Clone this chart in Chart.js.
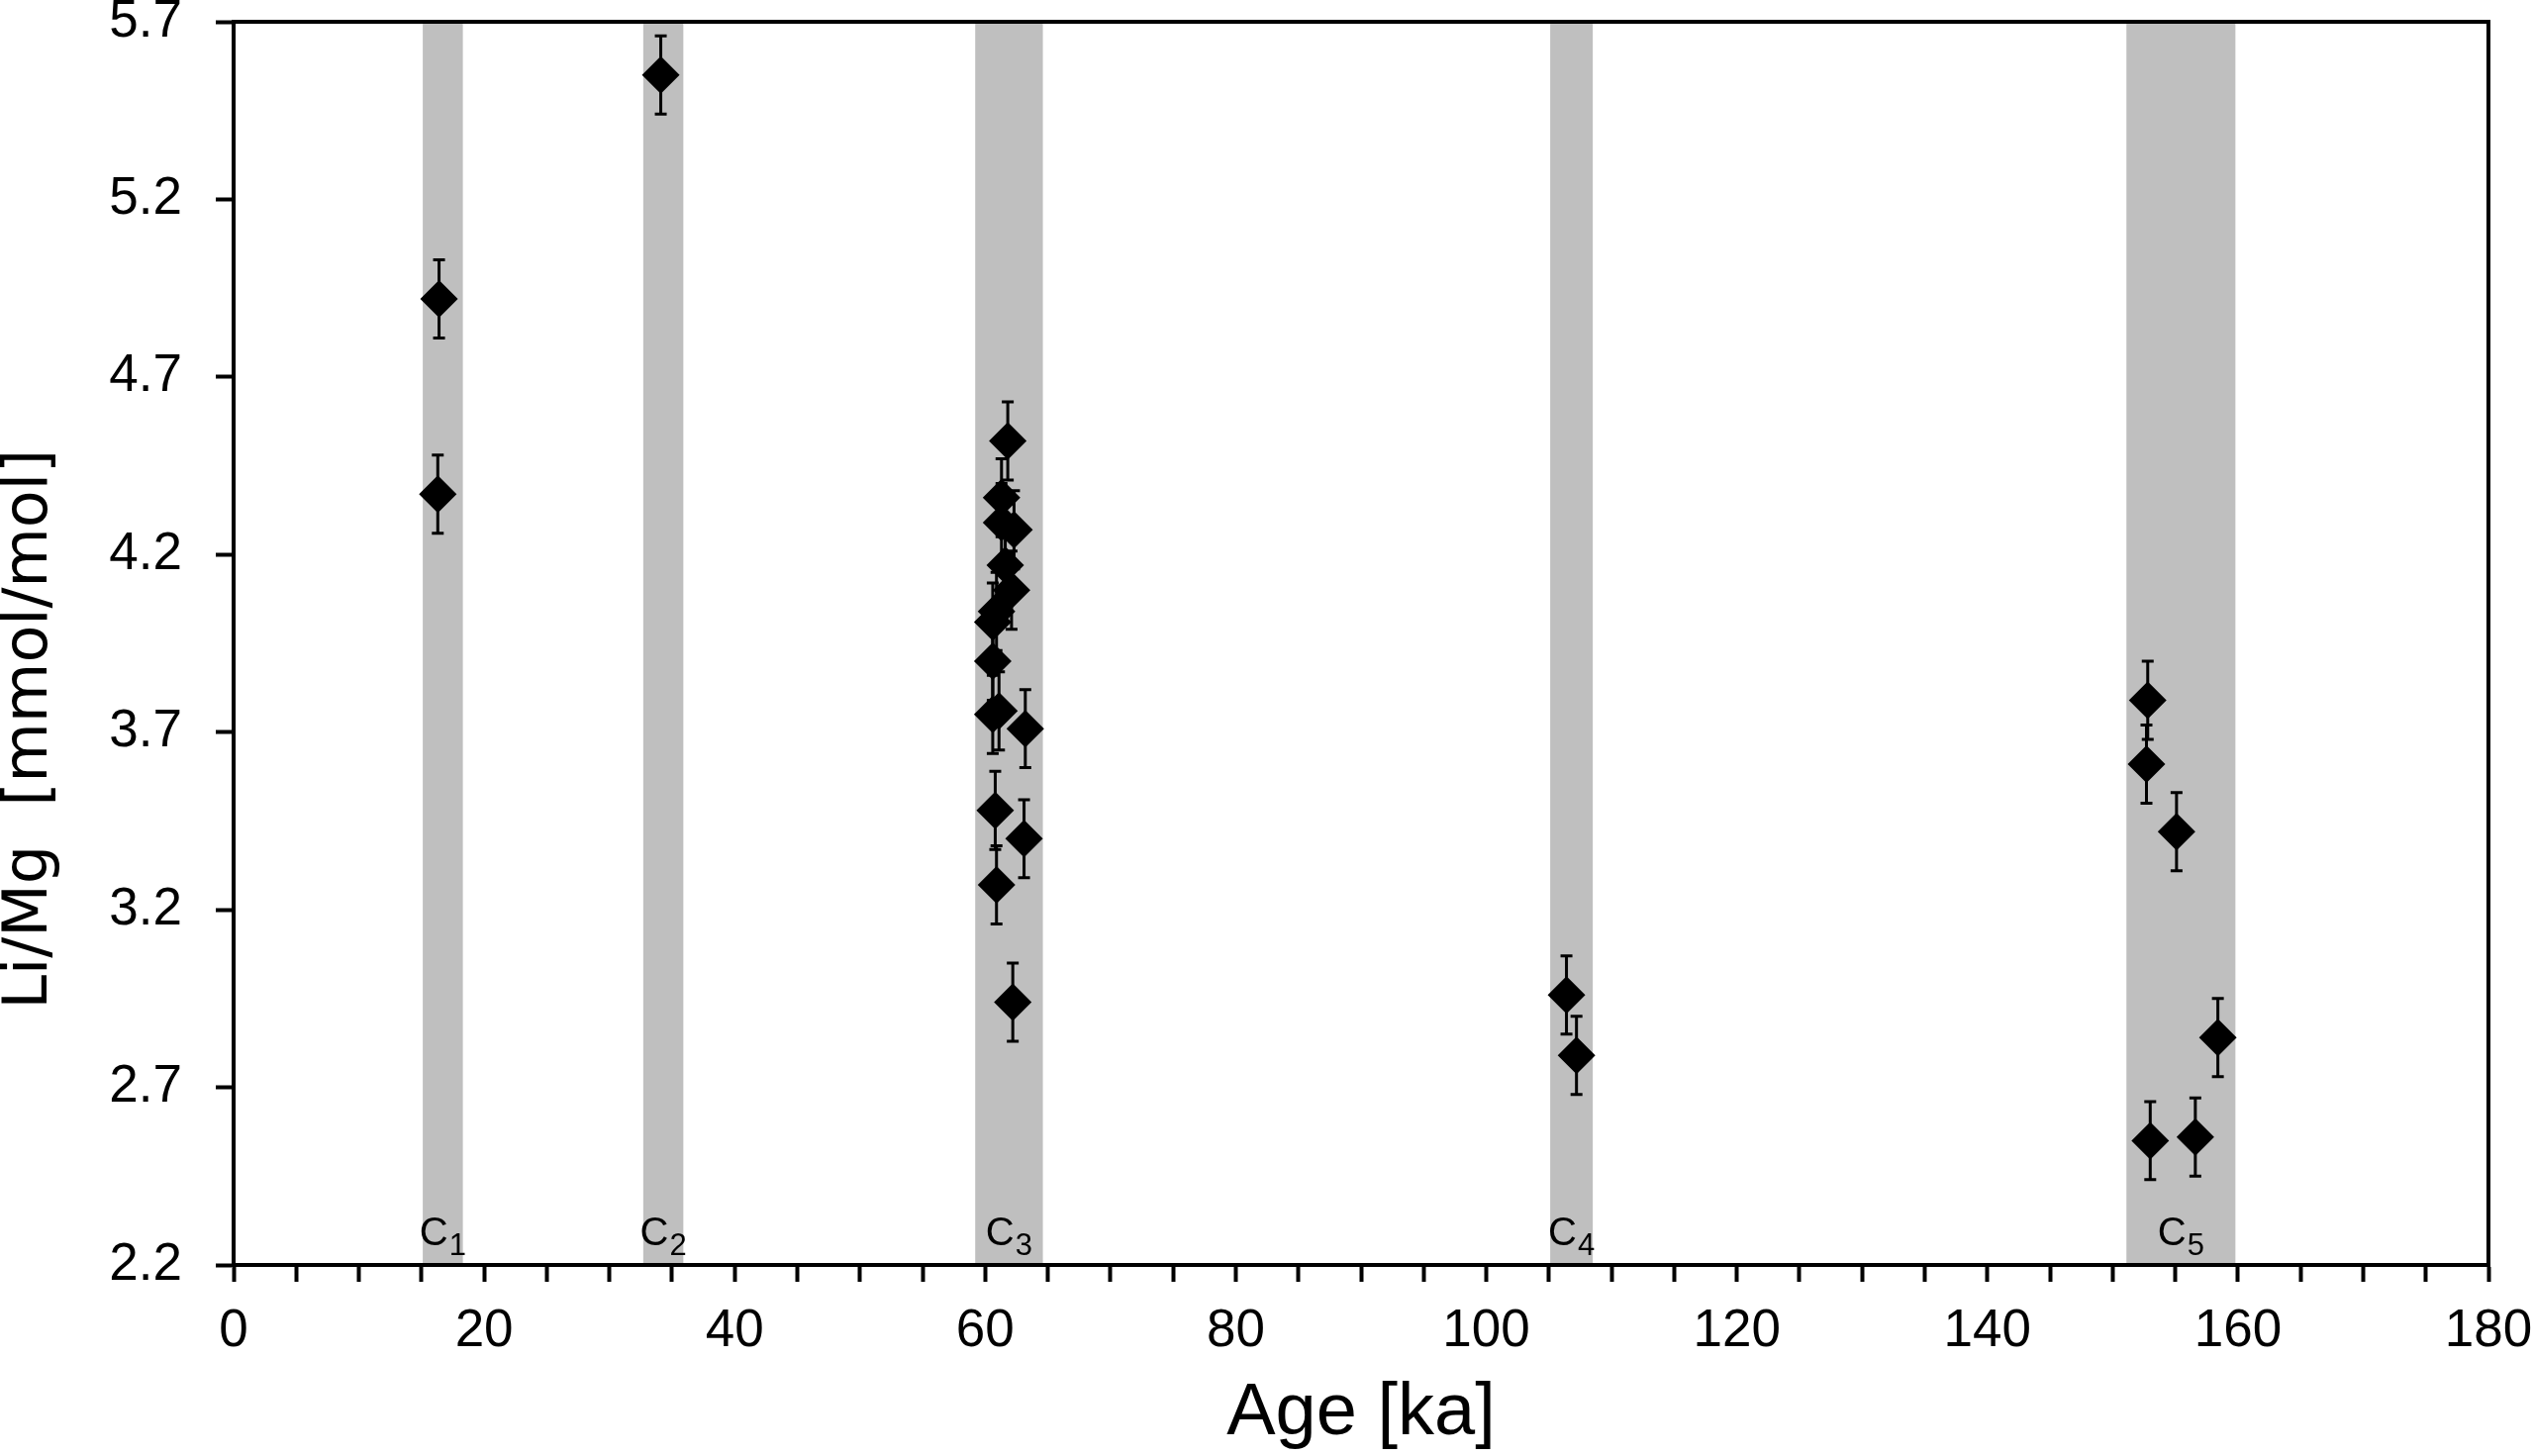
<!DOCTYPE html>
<html>
<head>
<meta charset="utf-8">
<script src="https://cdn.jsdelivr.net/npm/chart.js@4.4.1/dist/chart.umd.min.js"></script>
<style>
  html, body { margin: 0; padding: 0; background: #fff; }
  #wrap { width: 2559px; height: 1471px; }
</style>
</head>
<body>
<div id="wrap"><canvas id="chart"></canvas></div>
<script>
// Li/Mg against age, grouped in the five grey intervals C1..C5
var ages = [16.4, 16.3, 34.1,
  61.8, 61.3, 61.3, 62.3, 61.6, 62.1, 60.9, 60.6, 60.6, 60.6, 61.1, 63.2, 60.8, 63.1, 60.9, 62.2,
  106.4, 107.2,
  152.8, 152.7, 155.1, 158.4, 153.0, 156.6];
var liMg = [4.92, 4.37, 5.55,
  4.52, 4.36, 4.29, 4.27, 4.17, 4.10, 4.04, 4.01, 3.90, 3.75, 3.76, 3.71, 3.48, 3.40, 3.27, 2.94,
  2.96, 2.79,
  3.79, 3.61, 3.42, 2.84, 2.55, 2.56];
var errors = [0.11, 0.11, 0.11,
  0.11, 0.11, 0.11, 0.11, 0.11, 0.11, 0.11, 0.11, 0.11, 0.11, 0.11, 0.11, 0.11, 0.11, 0.11, 0.11,
  0.11, 0.11,
  0.11, 0.11, 0.11, 0.11, 0.11, 0.11];

var bandStart = [15.1, 32.7, 59.2, 105.1, 151.1];
var bandEnd = [18.3, 35.9, 64.6, 108.5, 159.8];
var bandNames = ['1', '2', '3', '4', '5'];

var xTicks = [0, 5, 10, 15, 20, 25, 30, 35, 40, 45, 50, 55, 60, 65, 70, 75, 80, 85, 90,
  95, 100, 105, 110, 115, 120, 125, 130, 135, 140, 145, 150, 155, 160, 165, 170, 175, 180];
var xLabelEvery = 20;
var yTicks = [2.2, 2.7, 3.2, 3.7, 4.2, 4.7, 5.2, 5.7];

var points = ages.map((a, i) => ({ x: a, y: liMg[i] }));

var bands = {
  id: 'bands',
  beforeDatasetsDraw: (chart) => {
    var ctx = chart.ctx, area = chart.chartArea, xs = chart.scales.x;
    ctx.save();
    ctx.fillStyle = '#bfbfbf';
    bandStart.forEach((s, i) => {
      var x0 = xs.getPixelForValue(s), x1 = xs.getPixelForValue(bandEnd[i]);
      ctx.fillRect(x0, area.top, x1 - x0, area.bottom - area.top);
    });
    ctx.restore();
  },
  afterDatasetsDraw: (chart) => {
    var ctx = chart.ctx, area = chart.chartArea, xs = chart.scales.x;
    var big = '40px "Liberation Sans", Arial, sans-serif';
    var small = '31px "Liberation Sans", Arial, sans-serif';
    ctx.save();
    ctx.fillStyle = '#000';
    ctx.textBaseline = 'alphabetic';
    bandStart.forEach((s, i) => {
      var mid = (xs.getPixelForValue(s) + xs.getPixelForValue(bandEnd[i])) / 2;
      ctx.font = big;
      var wc = ctx.measureText('C').width;
      ctx.font = small;
      var ws = ctx.measureText(bandNames[i]).width;
      var left = mid - (wc + ws + 1) / 2;
      ctx.font = big;
      ctx.fillText('C', left, area.bottom - 20);
      ctx.font = small;
      ctx.fillText(bandNames[i], left + wc + 1, area.bottom - 10);
    });
    ctx.restore();
  }
};

var errorBars = {
  id: 'errorBars',
  afterDatasetsDraw: (chart) => {
    var ctx = chart.ctx, xs = chart.scales.x, ys = chart.scales.y;
    ctx.save();
    ctx.strokeStyle = '#000';
    ctx.lineWidth = 3;
    ages.forEach((a, i) => {
      var px = xs.getPixelForValue(a);
      var top = ys.getPixelForValue(liMg[i] + errors[i]);
      var bot = ys.getPixelForValue(liMg[i] - errors[i]);
      ctx.beginPath();
      ctx.moveTo(px, top); ctx.lineTo(px, bot);
      ctx.moveTo(px - 6, top); ctx.lineTo(px + 6, top);
      ctx.moveTo(px - 6, bot); ctx.lineTo(px + 6, bot);
      ctx.stroke();
    });
    ctx.restore();
  }
};

var frame = {
  id: 'frame',
  afterDraw: (chart) => {
    var ctx = chart.ctx, area = chart.chartArea;
    ctx.save();
    ctx.strokeStyle = '#000';
    ctx.lineWidth = 4;
    ctx.strokeRect(area.left, area.top, area.right - area.left, area.bottom - area.top);
    // y axis title, placed a little below the middle as in the original
    ctx.font = '62px "DejaVu Sans", sans-serif';
    ctx.fillStyle = '#000';
    ctx.textAlign = 'center';
    ctx.textBaseline = 'middle';
    ctx.translate(31, area.top + (area.bottom - area.top) * 0.569);
    ctx.rotate(-Math.PI / 2);
    ctx.fillText('Li/Mg  [mmol/mol]', 0, 0);
    ctx.restore();
  }
};

var tickFont = { family: '"Liberation Sans", Arial, sans-serif', size: 53 };

new Chart(document.getElementById('chart'), {
  type: 'scatter',
  data: {
    datasets: [{
      label: 'Li/Mg',
      data: points,
      pointStyle: 'rectRot',
      pointRadius: 19,
      pointHoverRadius: 19,
      backgroundColor: '#000',
      borderWidth: 0
    }]
  },
  options: {
    responsive: true,
    maintainAspectRatio: false,
    devicePixelRatio: 1,
    animation: false,
    layout: { padding: { top: 22, right: 45, left: 0, bottom: 0 } },
    plugins: {
      legend: { display: false },
      tooltip: { enabled: false }
    },
    scales: {
      x: {
        type: 'linear',
        min: 0,
        max: 180,
        afterBuildTicks: (scale) => { scale.ticks = xTicks.map(v => ({ value: v })); },
        afterFit: (scale) => { scale.height = 193; scale.paddingLeft = 0; scale.paddingRight = 0; },
        ticks: {
          autoSkip: false,
          maxRotation: 0,
          padding: 19,
          color: '#000',
          font: tickFont,
          callback: (v) => v % xLabelEvery === 0 ? String(v) : ''
        },
        grid: {
          drawOnChartArea: false,
          drawTicks: true,
          tickLength: 17,
          tickWidth: 4,
          tickColor: '#000'
        },
        border: { display: true, color: '#000', width: 4 },
        title: {
          display: true,
          text: 'Age [ka]',
          color: '#000',
          font: { family: '"Liberation Sans", Arial, sans-serif', size: 74, lineHeight: 1 },
          padding: { top: 0, bottom: 5 }
        }
      },
      y: {
        type: 'linear',
        min: 2.2,
        max: 5.7,
        afterBuildTicks: (scale) => { scale.ticks = yTicks.map(v => ({ value: v })); },
        afterFit: (scale) => { scale.width = 236; scale.paddingTop = 0; scale.paddingBottom = 0; },
        ticks: {
          padding: 34,
          color: '#000',
          font: tickFont,
          callback: (v) => v.toFixed(1)
        },
        grid: {
          drawOnChartArea: false,
          drawTicks: true,
          tickLength: 18,
          tickWidth: 4,
          tickColor: '#000'
        },
        border: { display: true, color: '#000', width: 4 }
      }
    }
  },
  plugins: [bands, errorBars, frame]
});
</script>
</body>
</html>
